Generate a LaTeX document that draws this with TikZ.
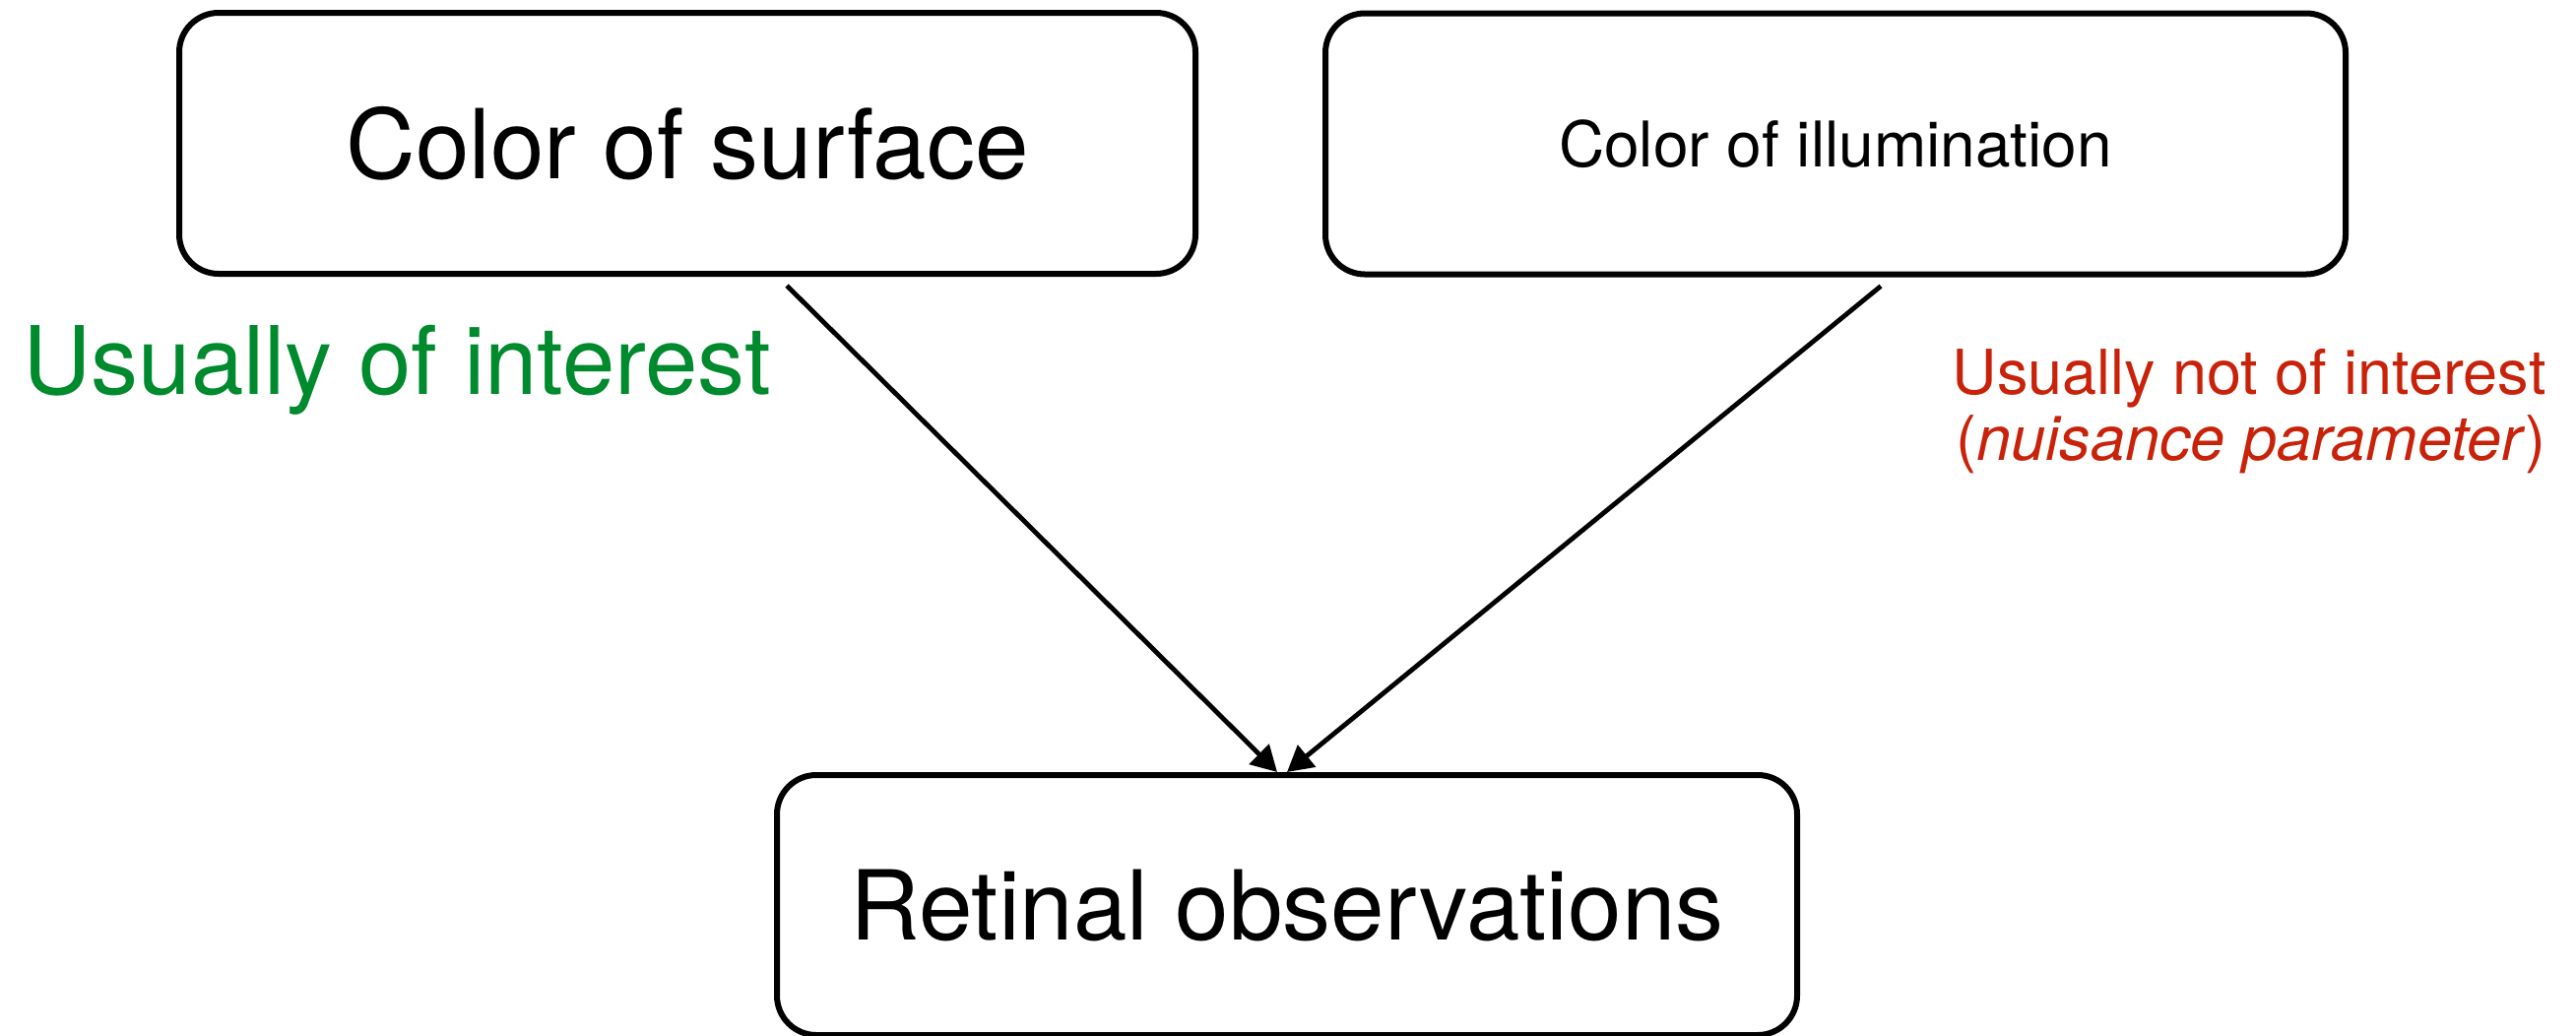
\documentclass[tikz,border=0pt]{standalone}
\usepackage{fontspec}
\setmainfont{TeX Gyre Heros}
\usetikzlibrary{arrows.meta,calc}
\definecolor{interest}{RGB}{0,138,46}
\definecolor{nuisance}{RGB}{200,35,10}
\begin{document}
\begin{tikzpicture}[x=0.5pt,y=-0.5pt,
  box/.style={draw, line width=3pt, rounded corners=20pt, inner sep=0pt, anchor=center,
    minimum width=518pt, minimum height=132.5pt},
  bigtext/.style={font=\fontsize{49}{58}\selectfont},
  smalltext/.style={font=\fontsize{32}{38}\selectfont},
  conn/.style={line width=2.4pt, -{Triangle[length=13pt,width=14pt]}},
  greenlbl/.style={text=interest, inner sep=0pt, font=\fontsize{48}{58}\selectfont},
  redlbl/.style={text=nuisance, inner sep=0pt, font=\fontsize{31.5}{38}\selectfont},
]
\useasboundingbox (0,0) rectangle (2616,1051);
\node[box, bigtext, minimum width=516pt] (surface) at (698,145.5) {Color of surface};
\node[box, smalltext] (illum) at (1864,146) {Color of illumination};
\node[box, bigtext, minimum height=132pt] (retina) at (1307,919) {Retinal observations};
\node[greenlbl, anchor=base west] (int) at (23,400) {Usually of interest};
\node[redlbl, anchor=base east] (nus1) at (2586,400) {Usually not of interest};
\node[redlbl, anchor=base east] (nus2) at (2586,467) {(\textit{nuisance parameter})};
\coordinate (s1) at ($(surface.south west)+(620,9)$);
\coordinate (s2) at ($(illum.south west)+(567,9)$);
\coordinate (e1) at ($(retina.north west)+(511,0)$);
\coordinate (e2) at ($(retina.north west)+(521,0)$);
\draw[conn] (s1) -- (e1);
\draw[conn] (s2) -- (e2);
\end{tikzpicture}
\end{document}
